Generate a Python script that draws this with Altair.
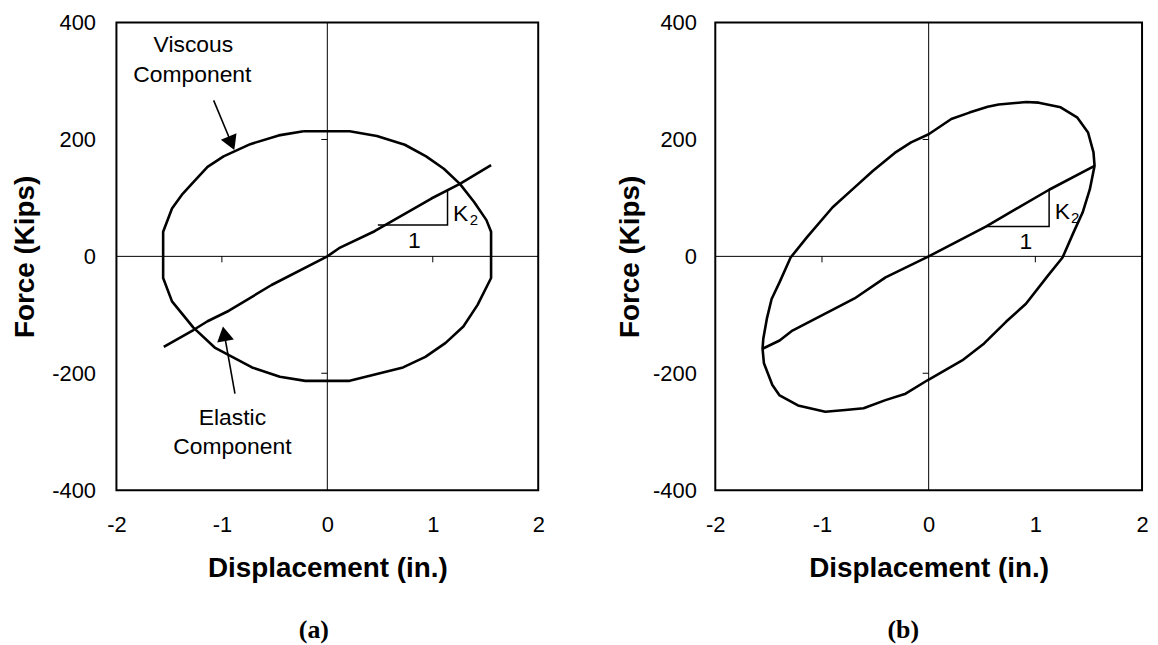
import altair as alt
import pandas as pd
import numpy as np

FONT = "Liberation Sans"

# ---------------- data ----------------
# Panel (a): viscous loop (closed) and elastic line
a_loop_x = [-0.226, 0.212, 0.470, 0.735, 0.937, 1.105, 1.257, 1.392, 1.509, 1.553, 1.553,
            1.425, 1.290, 1.122, 0.930, 0.718, 0.212, -0.209, -0.450, -0.714, -1.068,
            -1.270, -1.473, -1.557, -1.557, -1.473, -1.372, -1.270, -1.136, -0.984,
            -0.731, -0.461, -0.226]
a_loop_y = [214, 214, 206, 191, 171, 150, 124, 93, 62, 42, -37,
            -83, -120, -148, -172, -190, -213, -213, -206, -190, -156,
            -122, -77, -37, 42, 82, 107, 127, 153, 171,
            192, 207, 214]
a_el_x = [-1.551, -1.270, -1.136, -0.933, -0.529, 0.0, 0.111, 0.448, 0.987, 1.257, 1.553]
a_el_y = [-155, -126, -111, -93, -49, 0, 14, 43, 99, 124, 156]

# Panel (b): total loop (closed) and elastic line
b_loop_x = [0.912, 1.032, 1.237, 1.391, 1.494, 1.545, 1.555, 1.511, 1.443, 1.358, 1.255,
            1.118, 0.912, 0.725, 0.520, 0.314, -0.011, -0.216, -0.405, -0.610, -0.781,
            -0.969, -1.225, -1.397, -1.465, -1.544, -1.557, -1.550, -1.517, -1.472,
            -1.397, -1.294, -1.140, -0.900, -0.712, -0.524, -0.318, -0.165, 0.0,
            0.212, 0.382, 0.553, 0.656, 0.912]
b_loop_y = [264, 263, 255, 238, 212, 178, 155, 115, 75, 41, -2,
            -33, -81, -112, -149, -178, -212, -235, -246, -260, -263,
            -266, -255, -238, -220, -183, -158, -141, -107, -73,
            -44, -2, 33, 84, 115, 146, 177, 195, 209,
            235, 246, 256, 260, 264]
b_el_x = [-1.557, -1.397, -1.277, -0.884, -0.695, -0.404, 0.0, 0.536, 1.129, 1.555]
b_el_y = [-158, -144, -127, -90, -72, -36, 0, 51, 114, 155]

# slope triangles (K2 / 1)
a_tri_x = [0.479, 1.140, 1.140]
a_tri_y = [53.5, 53.5, 113]
b_tri_x = [0.536, 1.129, 1.129]
b_tri_y = [51, 51, 115]

# annotation texts
a_text = ["Viscous", "Component", "Elastic", "Component", "K", "2", "1"]
a_text_x = [-1.27, -1.28, -0.90, -0.90, 1.265, 1.39, 0.825]
a_text_y = [361, 310, -277, -327, 73, 63, 27]
a_text_size = [23, 23, 23, 23, 23, 15, 23]

b_text = ["K", "2", "1"]
b_text_x = [1.253, 1.374, 0.912]
b_text_y = [76, 65, 24]
b_text_size = [23, 15, 23]

# arrows (tail -> tip), panel (a)
arrow_tail_x = [-1.078, -0.876]
arrow_tail_y = [267, -235]
arrow_tip_x = [-0.882, -0.990]
arrow_tip_y = [182, -120]

# axes
x_ticks = [-2, -1, 0, 1, 2]
y_ticks = [-400, -200, 0, 200, 400]
x_minor = [-1, 1]
y_minor = [-200, 200]

X_DOM = [-2, 2]
Y_DOM = [-400, 400]
H = 470


def panel(loop_x, loop_y, el_x, el_y, tri_x, tri_y, texts, tx, ty, tsize,
          width, label_pad_y, title_x, tag, tag_x, arrows=None):
    ppx = width / 4.0
    ppy = H / 800.0
    xs = alt.Scale(domain=X_DOM, nice=False, zero=False)
    ys = alt.Scale(domain=Y_DOM, nice=False, zero=False)
    x_axis = alt.Axis(values=x_ticks, title="Displacement (in.)", titleFont=FONT,
                      titleFontSize=28, titleFontWeight="bold", titleColor="black",
                      titleY=65, labelFont=FONT, labelFontSize=22, labelColor="black",
                      labelPadding=25, labelFlush=False, labelOverlap=False,
                      labelExpr="'' + datum.value", ticks=False, tickSize=0,
                      domain=False, grid=False)
    y_axis = alt.Axis(values=y_ticks, title="Force (Kips)", titleFont=FONT,
                      titleFontSize=28, titleFontWeight="bold", titleColor="black",
                      titleX=title_x, labelFont=FONT, labelFontSize=22, labelColor="black",
                      labelPadding=label_pad_y, labelFlush=False, labelOverlap=False,
                      labelExpr="'' + datum.value", ticks=False, tickSize=0,
                      domain=False, grid=False)
    X = alt.X("x:Q", scale=xs, axis=x_axis)
    Y = alt.Y("y:Q", scale=ys, axis=y_axis)

    # zero lines and small ticks on them
    g_rows = [dict(x=0, y=Y_DOM[0], x2=0, y2=Y_DOM[1]),
              dict(x=X_DOM[0], y=0, x2=X_DOM[1], y2=0)]
    tick_len_y = 6 / ppy
    tick_len_x = 6 / ppx
    for v in x_minor:
        g_rows.append(dict(x=v, y=0, x2=v, y2=-tick_len_y))
    for v in y_minor:
        g_rows.append(dict(x=-tick_len_x, y=v, x2=0, y2=v))
    guides = alt.Chart(pd.DataFrame(g_rows)).mark_rule(color="black", strokeWidth=1).encode(
        x=X, y=Y, x2="x2:Q", y2="y2:Q")

    loop = alt.Chart(pd.DataFrame({"x": loop_x, "y": loop_y, "i": range(len(loop_x))})).mark_line(
        color="black", strokeWidth=2.6, strokeJoin="round").encode(x=X, y=Y, order="i:Q")
    el = alt.Chart(pd.DataFrame({"x": el_x, "y": el_y, "i": range(len(el_x))})).mark_line(
        color="black", strokeWidth=2.6, strokeJoin="round").encode(x=X, y=Y, order="i:Q")
    tri = alt.Chart(pd.DataFrame({"x": tri_x, "y": tri_y, "i": range(len(tri_x))})).mark_line(
        color="black", strokeWidth=1.5).encode(x=X, y=Y, order="i:Q")
    txt = alt.Chart(pd.DataFrame({"x": tx, "y": ty, "t": texts, "s": tsize})).mark_text(
        font=FONT, color="black", baseline="middle", align="center").encode(
        x=X, y=Y, text="t:N", size=alt.Size("s:Q", scale=None, legend=None))
    tagc = alt.Chart(pd.DataFrame({"t": [tag]})).mark_text(
        font="Liberation Serif", fontWeight="bold", fontSize=26, color="black",
        baseline="middle", align="center").encode(
        x=alt.value(tag_x), y=alt.value(611), text="t:N")

    layers = [guides, loop, el, tri, txt, tagc]

    if arrows is not None:
        size = 290.0
        h = 0.433 * np.sqrt(size)
        rows_r, rows_p = [], []
        for tx0, ty0, tx1, ty1 in zip(*arrows):
            dxp = (tx1 - tx0) * ppx
            dyp = -(ty1 - ty0) * ppy
            n = np.hypot(dxp, dyp)
            ux, uy = dxp / n, dyp / n
            cx = tx1 - ux * h / ppx
            cy = ty1 + uy * h / ppy
            ang = (np.degrees(np.arctan2(ux, -uy)) + 360) % 360
            rows_r.append(dict(x=tx0, y=ty0, x2=cx, y2=cy))
            rows_p.append(dict(x=cx, y=cy, a=ang))
        ar = alt.Chart(pd.DataFrame(rows_r)).mark_rule(color="black", strokeWidth=1.6).encode(
            x=X, y=Y, x2="x2:Q", y2="y2:Q")
        ah = alt.Chart(pd.DataFrame(rows_p)).mark_point(
            shape="triangle-up", filled=True, color="black", opacity=1, size=size,
            strokeWidth=0).encode(x=X, y=Y, angle=alt.Angle("a:Q", scale=None))
        layers += [ar, ah]

    return alt.layer(*layers).properties(width=width, height=H)


pa = panel(a_loop_x, a_loop_y, a_el_x, a_el_y, a_tri_x, a_tri_y,
           a_text, a_text_x, a_text_y, a_text_size,
           width=424, label_pad_y=21, title_x=-77.6, tag="(a)", tag_x=198.5,
           arrows=(arrow_tail_x, arrow_tail_y, arrow_tip_x, arrow_tip_y))
pb = panel(b_loop_x, b_loop_y, b_el_x, b_el_y, b_tri_x, b_tri_y,
           b_text, b_text_x, b_text_y, b_text_size,
           width=429, label_pad_y=19, title_x=-71.1, tag="(b)", tag_x=189)

chart = alt.hconcat(pa, pb, spacing=69).properties(
    padding={"left": 2, "top": 1, "right": 0, "bottom": 0},
    background="white",
).configure_view(stroke="black", strokeWidth=2)

chart.save("out.html", embed_options={"renderer": "svg", "actions": False})
